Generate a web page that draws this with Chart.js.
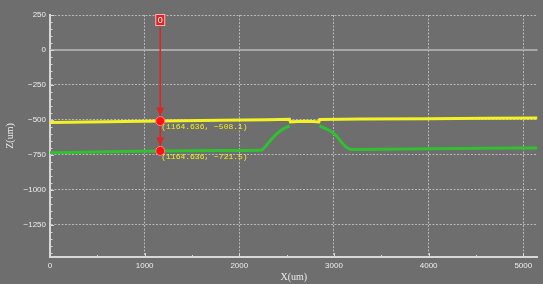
<!DOCTYPE html>
<html>
<head>
<meta charset="utf-8">
<script src="https://cdn.jsdelivr.net/npm/chart.js@4.4.1/dist/chart.umd.min.js"></script>
<style>
  html, body { margin: 0; padding: 0; background: #6e6e6e; }
  #wrap { width: 543px; height: 284px; position: relative; }
</style>
</head>
<body>
<div id="wrap"><canvas id="myChart"></canvas></div>
<script>
// Profil jaune (surface haute)
const yellowX = [0, 600, 1164.636, 1800, 2300, 2530, 2540, 2620, 2700, 2780, 2840, 2850, 3300, 4000, 4600, 5150];
const yellowZ = [-518, -513, -508.1, -503, -499, -496, -514, -511, -509, -511, -515, -497, -494, -491, -489, -487];

// Profil vert (surface basse)
const greenX = [0, 600, 1164.636, 1800, 2233, 2268, 2321, 2391, 2461, 2532, 2700, 2848, 2954, 3024, 3094, 3147, 3183, 3300, 4000, 4600, 5150];
const greenZ = [-735, -728, -721.5, -719, -717, -696, -653, -601, -566, -542, null, -542, -576, -613, -672, -703, -712, -711, -706, -703, -700];

// Curseur de mesure
const cursorLabel = '0';
const cursorX = [1164.636, 1164.636];
const cursorZ = [-508.1, -721.5];

// Graduations
const xRange = [0, 5150];
const zRange = [-1480, 250];
const xTicks = [0, 1000, 2000, 3000, 4000, 5000];
const zTicks = [250, 0, -250, -500, -750, -1000, -1250];

const fmt = v => String(v).replace('-', '\u2212');
const toPts = (xs, ys) => xs.map((x, i) => ({ x: x, y: ys[i] }));

// Fond + petites graduations + curseur
const profilePlugin = {
    id: 'profile',
    beforeDraw(chart) {
        const c = chart.ctx;
        c.save();
        c.fillStyle = '#6e6e6e';
        c.fillRect(0, 0, chart.width, chart.height);
        c.restore();
    },
    beforeDatasetsDraw(chart) {
        const c = chart.ctx, a = chart.chartArea;
        const sy = chart.scales.y;
        c.save();
        // ligne du zéro
        const y0 = Math.round(sy.getPixelForValue(0));
        c.strokeStyle = '#a8a8a8';
        c.lineWidth = 2;
        c.beginPath(); c.moveTo(a.left, y0); c.lineTo(a.right, y0); c.stroke();
        c.restore();
    },
    beforeDatasetDraw(chart, args) {
        if (args.index !== 2) return;
        const c = chart.ctx, a = chart.chartArea;
        const sx = chart.scales.x, sy = chart.scales.y;
        const px = sx.getPixelForValue(cursorX[0]);
        c.save();
        c.strokeStyle = '#e02424';
        c.fillStyle = '#e02424';
        c.lineWidth = 1.5;
        c.beginPath();
        c.moveTo(px, a.top + 12);
        c.lineTo(px, sy.getPixelForValue(cursorZ[cursorZ.length - 1]));
        c.stroke();
        cursorZ.forEach(z => {
            const tip = sy.getPixelForValue(z) - 5.5;
            c.beginPath();
            c.moveTo(px, tip);
            c.lineTo(px - 4, tip - 8);
            c.lineTo(px + 4, tip - 8);
            c.closePath();
            c.fill();
        });
        c.restore();
    },
    afterDatasetsDraw(chart) {
        const c = chart.ctx, a = chart.chartArea;
        const sx = chart.scales.x, sy = chart.scales.y;
        c.save();
        // petites graduations
        c.strokeStyle = '#d8d8d8';
        c.lineWidth = 1;
        c.beginPath();
        for (let v = -1450; v <= 250; v += 50) {
            const y = Math.round(sy.getPixelForValue(v)) + 0.5;
            const len = v % 250 === 0 ? 4 : 2.5;
            c.moveTo(a.left, y); c.lineTo(a.left + len, y);
        }
        for (let v = 500; v <= 5000; v += 500) {
            const x = Math.round(sx.getPixelForValue(v)) + 0.5;
            const len = v % 1000 === 0 ? 4 : 2;
            c.moveTo(x, a.bottom); c.lineTo(x, a.bottom - len);
        }
        c.stroke();

        // étiquettes du curseur
        const px = sx.getPixelForValue(cursorX[0]);
        c.font = '8px "Liberation Mono"';
        c.fillStyle = '#f0f020';
        c.textBaseline = 'top';
        c.textAlign = 'left';
        cursorZ.forEach((z, i) => {
            c.fillText('(' + cursorX[i] + ', ' + fmt(z) + ')', px + 1, sy.getPixelForValue(z) + 2);
        });

        // boîte "0"
        c.fillStyle = '#e02424';
        c.fillRect(px - 4.5, a.top - 0.5, 9, 11);
        c.strokeStyle = '#ffb0b0';
        c.lineWidth = 1;
        c.strokeRect(px - 4.5, a.top - 0.5, 9, 11);
        c.fillStyle = '#ffffff';
        c.font = '9px "Liberation Sans"';
        c.textAlign = 'center';
        c.textBaseline = 'middle';
        c.fillText(cursorLabel, px, a.top + 5.5);
        c.restore();
    }
};

const ctx = document.getElementById('myChart').getContext('2d');
const myChart = new Chart(ctx, {
    type: 'scatter',
    data: {
        datasets: [
            {
                data: toPts(yellowX, yellowZ),
                showLine: true,
                borderColor: '#f2f224',
                borderWidth: 3,
                pointRadius: 0,
                order: 1
            },
            {
                data: toPts(greenX, greenZ),
                showLine: true,
                spanGaps: false,
                borderColor: '#30c030',
                borderWidth: 3,
                pointRadius: 0,
                cubicInterpolationMode: 'monotone',
                order: 2
            },
            {
                data: toPts(cursorX, cursorZ),
                pointRadius: 4.5,
                pointBackgroundColor: '#ff1010',
                pointBorderColor: '#ff8080',
                pointBorderWidth: 1,
                order: 0
            }
        ]
    },
    options: {
        responsive: true,
        maintainAspectRatio: false,
        animation: false,
        layout: { padding: { top: 15, right: 3, left: 0, bottom: 0 } },
        plugins: { legend: { display: false }, tooltip: { enabled: false } },
        scales: {
            x: {
                type: 'linear',
                min: xRange[0],
                max: xRange[1],
                afterFit: s => { s.height = 27; },
                afterBuildTicks: s => { s.ticks = xTicks.map(v => ({ value: v })); },
                ticks: {
                    color: '#ececec',
                    font: { family: 'Liberation Sans', size: 8 },
                    padding: 4,
                    maxRotation: 0,
                    autoSkip: false,
                    callback: v => fmt(v)
                },
                grid: {
                    drawTicks: false,
                    color: c => c.tick && c.tick.value === 0 ? 'transparent' : '#b8b8b8',
                    lineWidth: 1
                },
                border: { display: true, color: '#d8d8d8', width: 2, dash: [2, 1.5] },
                title: {
                    display: true,
                    text: 'X(um)',
                    color: '#ececec',
                    font: { family: 'Liberation Serif', size: 10 },
                    padding: { top: 0, bottom: 1 }
                }
            },
            y: {
                min: zRange[0],
                max: zRange[1],
                afterFit: s => { s.width = 50; },
                afterBuildTicks: s => { s.ticks = zTicks.map(v => ({ value: v })); },
                ticks: {
                    color: '#ececec',
                    font: { family: 'Liberation Sans', size: 8 },
                    padding: 4,
                    autoSkip: false,
                    callback: v => fmt(v)
                },
                grid: {
                    drawTicks: false,
                    color: c => c.tick && c.tick.value === 0 ? 'transparent' : '#b8b8b8',
                    lineWidth: 1
                },
                border: { display: true, color: '#d8d8d8', width: 2, dash: [2, 1.5] },
                title: {
                    display: true,
                    text: 'Z(um)',
                    color: '#ececec',
                    font: { family: 'Liberation Serif', size: 10 },
                    padding: { top: 4, bottom: 0 }
                }
            }
        }
    },
    plugins: [profilePlugin]
});
</script>
</body>
</html>
